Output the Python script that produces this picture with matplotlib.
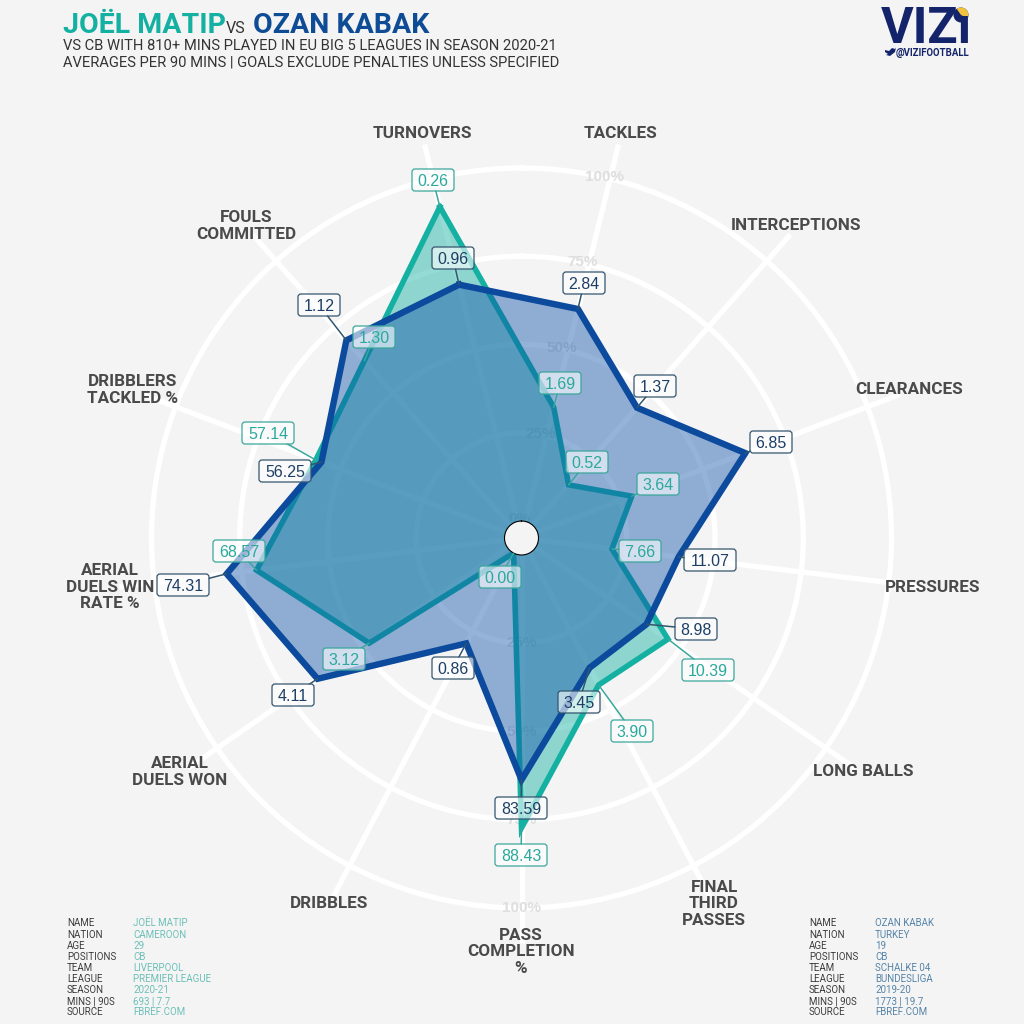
import numpy as np
import matplotlib
matplotlib.use('Agg')
import matplotlib.pyplot as plt
from matplotlib.patches import FancyBboxPatch, Circle, Wedge, Polygon

metrics = ['TURNOVERS', 'TACKLES', 'INTERCEPTIONS', 'CLEARANCES', 'PRESSURES', 'LONG BALLS',
           'FINAL\nTHIRD\nPASSES', 'PASS\nCOMPLETION\n%', 'DRIBBLES', 'AERIAL\nDUELS WON',
           'AERIAL\nDUELS WIN\nRATE %', 'DRIBBLERS\nTACKLED %', 'FOULS\nCOMMITTED']
matip_pct = [91.8, 33.3, 15.3, 28.6, 21.0, 45.6, 42.2, 77.3, 0.0, 47.6, 70.8, 57.5, 62.3]
kabak_pct = [69.1, 62.0, 44.5, 63.0, 40.0, 38.2, 36.7, 63.7, 28.9, 65.4, 79.3, 55.8, 70.0]
matip_raw = ['0.26', '1.69', '0.52', '3.64', '7.66', '10.39', '3.90', '88.43', '0.00', '3.12', '68.57', '57.14', '1.30']
kabak_raw = ['0.96', '2.84', '1.37', '6.85', '11.07', '8.98', '3.45', '83.59', '0.86', '4.11', '74.31', '56.25', '1.12']
pct_ticks = [0, 25, 50, 75, 100]

info_keys = ['NAME', 'NATION', 'AGE', 'POSITIONS', 'TEAM', 'LEAGUE', 'SEASON', 'MINS | 90S', 'SOURCE']
matip_info = ['JOËL MATIP', 'CAMEROON', '29', 'CB', 'LIVERPOOL', 'PREMIER LEAGUE', '2020-21', '693 | 7.7', 'FBREF.COM']
kabak_info = ['OZAN KABAK', 'TURKEY', '19', 'CB', 'SCHALKE 04', 'BUNDESLIGA', '2019-20', '1773 | 19.7', 'FBREF.COM']

# layout, in pixels of the 1024 picture
label_xy = [(422, 134), (621, 134), (796, 226), (909, 390), (933, 587), (863, 772), (714, 904),
            (521, 952), (329, 904), (180, 772), (110, 587), (133, 390), (246, 226)]
matip_box = [(433, 180), (560, 383), (587, 462), (658, 484), (640, 551), (708, 670), (632, 731),
             (521, 855), (500, 577), (344, 659), (239, 551), (268, 433), (374, 337)]
kabak_box = [(453, 258), (584, 283), (655, 386), (771, 442), (710, 560), (696, 629), (579, 702),
             (521, 808), (453, 668), (293, 695), (183, 585), (285, 471), (319, 305)]

BG = '#f4f4f4'
TEAL = '#14b1a2'
BLUE = '#0b4a9c'
NAVY = '#14246b'
cx, cy = 521.5, 538
scale = 3.53       # px per percent
hole = 17          # px radius of the 0% ring
rmax = 110

fig = plt.figure(figsize=(10.24, 10.24), dpi=100, facecolor=BG)

# radar
origin = -hole / scale
radius = (rmax - origin) * scale
radar = fig.add_axes([(cx - radius) / 1024, (1024 - cy - radius) / 1024, 2 * radius / 1024, 2 * radius / 1024],
                     projection='polar')
radar.patch.set_visible(False)
radar.spines['polar'].set_visible(False)
radar.spines['inner'].set_visible(False)
radar.set_theta_zero_location('N')
radar.set_theta_direction(-1)
n = len(metrics)
# pass completion sits straight down, so turnovers is the first one left of north
theta = np.deg2rad(180 + 360 / n * (np.arange(n) - 7))
radar.set_rorigin(origin)
radar.set_ylim(0, rmax)
radar.set_thetagrids(np.rad2deg(theta) % 360, labels=[])
radar.set_rgrids([25, 50, 75, 100], labels=[])
radar.grid(True, color='white', lw=3.8)
radar.tick_params(length=0)
radar.set_axisbelow(True)

for t in pct_ticks:
    if t > 0:
        radar.annotate(f'{t}%', (theta[7], t), xytext=(0, 0), textcoords='offset pixels', ha='center', va='center',
                       fontsize=11, fontweight='bold', family='Liberation Sans', color='#dedede', zorder=1.5)
    radar.annotate(f'{t}%', (theta[1], t), xytext=(-6, 2), textcoords='offset pixels', ha='center', va='center',
                   fontsize=11, fontweight='bold', family='Liberation Sans', color='#dedede', zorder=1.5)

th = np.append(theta, theta[0])
radar.fill(th, matip_pct + matip_pct[:1], color=TEAL, alpha=0.45, lw=0, zorder=2)
radar.plot(th, matip_pct + matip_pct[:1], color=TEAL, lw=4, solid_joinstyle='miter', zorder=2.1)
radar.fill(th, kabak_pct + kabak_pct[:1], color='#0b4fa8', alpha=0.43, lw=0, zorder=2.2)
radar.plot(th, kabak_pct + kabak_pct[:1], color=BLUE, lw=4.6, solid_joinstyle='miter', zorder=2.3)

# overlay in pixel coordinates for all the text
over = fig.add_axes([0, 0, 1, 1])
over.set_xlim(0, 1024)
over.set_ylim(1024, 0)
over.axis('off')


def value_box(txt, xy, pct, th_i, edge, color):
    w = 52 if len(txt) > 4 else 42
    box = FancyBboxPatch((xy[0] - w / 2, xy[1] - 11), w, 22, boxstyle='round,pad=0,rounding_size=3',
                         fc=(1, 1, 1, 0.6), ec=edge, lw=0.9, zorder=5)
    over.add_patch(box)
    over.annotate('', xy=(th_i, pct), xycoords=radar.transData, xytext=xy, textcoords='data',
                  arrowprops=dict(arrowstyle='-', color=edge, lw=1.1, patchA=box, shrinkA=0, shrinkB=0), zorder=4)
    over.text(xy[0], xy[1], txt, ha='center', va='center_baseline', fontsize=11.5, color=color,
              family='Liberation Sans', zorder=6)


for i in range(n):
    value_box(matip_raw[i], matip_box[i], matip_pct[i], theta[i], '#3aa79c', '#2aa99c')
for i in range(n):
    value_box(kabak_raw[i], kabak_box[i], kabak_pct[i], theta[i], '#33566f', '#1d3f66')

for name, xy in zip(metrics, label_xy):
    over.text(xy[0], xy[1], name, ha='center', va='center', fontsize=12.3, fontweight='bold', family='Roboto',
              color='#4a4a4a', linespacing=1.13, multialignment='center', zorder=7)

# title
over.text(63, 33, 'JOËL MATIP', fontsize=20.5, fontweight='bold', family='Roboto', color=TEAL, va='baseline')
over.text(226, 33, 'VS', fontsize=11.5, family='Roboto', color='#333333', va='baseline')
over.text(253, 33, 'OZAN KABAK', fontsize=20.5, fontweight='bold', family='Roboto', color='#0f4c96', va='baseline')
over.text(63, 50, 'VS CB WITH 810+ MINS PLAYED IN EU BIG 5 LEAGUES IN SEASON 2020-21', fontsize=10.6, family='Roboto',
          color='#333333', va='baseline')
over.text(63, 67, 'AVERAGES PER 90 MINS | GOALS EXCLUDE PENALTIES UNLESS SPECIFIED', fontsize=10.6, family='Roboto',
          color='#333333', va='baseline')

# logo
over.text(881, 43, 'VIZı', fontsize=36, fontweight='bold', family='Roboto', color=NAVY, va='baseline')
over.add_patch(Circle((961, 15), 7.5, fc=NAVY, ec='none'))
over.add_patch(Wedge((961, 15), 7.5, -125, 25, fc='#f2c23e', ec='none'))
over.add_patch(Polygon([(885, 50), (889, 51), (892, 48), (895, 49), (896, 47.5), (895, 52), (890, 56), (886, 55), (888, 54), (885, 52)],
                       fc=NAVY, ec='none'))
over.text(896, 55.5, '@VIZIFOOTBALL', fontsize=6.9, fontweight='bold', family='Roboto', color=NAVY, va='baseline')

# info tables
for j in range(len(info_keys)):
    y = 923.5 + j * 11.08
    over.text(67, y, info_keys[j], fontsize=7, family='Roboto', color='#3c3c3c', va='center')
    over.text(133, y, matip_info[j], fontsize=7, family='Roboto', color='#6cc0b8', va='center')
    over.text(809, y, info_keys[j], fontsize=7, family='Roboto', color='#3c3c3c', va='center')
    over.text(875, y, kabak_info[j], fontsize=7, family='Roboto', color='#5584a8', va='center')

fig.savefig('out.png', dpi=100, facecolor=BG)
